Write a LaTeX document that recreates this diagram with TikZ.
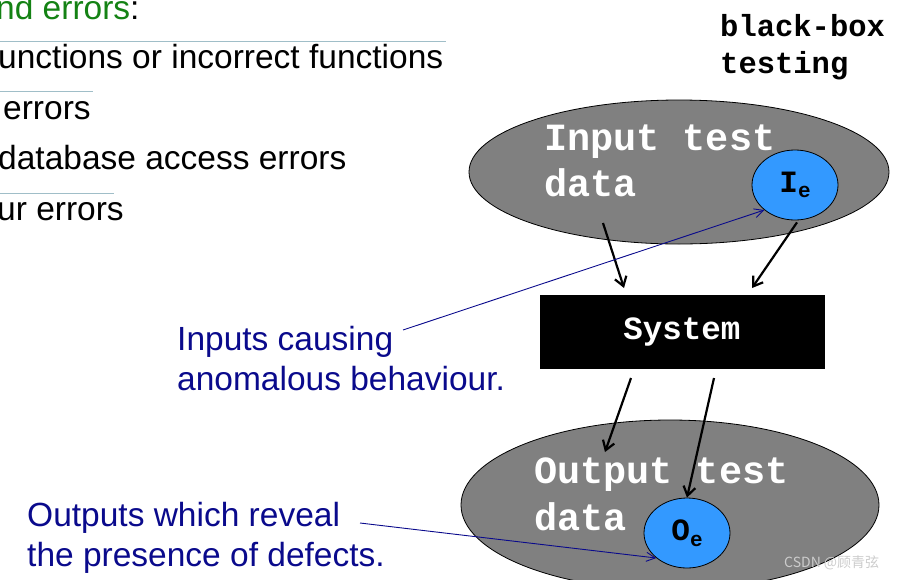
\documentclass[tikz,border=0pt]{standalone}
\usepackage{fontspec}
\setmainfont{Liberation Sans}
\newfontfamily\monof{Liberation Mono}
\newfontfamily\cjkf{Noto Sans CJK SC}
\usetikzlibrary{arrows.meta,shapes.geometric}
\definecolor{navyc}{RGB}{10,10,140}
\definecolor{greenc}{RGB}{20,130,20}
\definecolor{blobg}{RGB}{128,128,128}
\definecolor{dotb}{RGB}{51,153,255}
\definecolor{rulec}{RGB}{160,190,200}
\begin{document}
\begin{tikzpicture}[x=1pt,y=-1pt,
  blob/.style={ellipse,draw=black,fill=blobg,line width=0.8pt,inner sep=0pt},
  dot/.style={ellipse,draw=black,fill=dotb,line width=0.8pt,inner sep=0pt,font=\monof\bfseries\fontsize{31}{31}\selectfont},
  mono/.style={font=\monof\bfseries\fontsize{38.5}{40}\selectfont,text=white,anchor=base west,inner sep=0pt},
  body/.style={font=\fontsize{33.5}{36}\selectfont,anchor=base west,inner sep=0pt},
  note/.style={body,text=navyc},
  flow/.style={-{Straight Barb[length=9pt,width=12pt]},line width=2.2pt},
  pointer/.style={-{Straight Barb[length=9pt,width=9pt]},navyc,line width=0.9pt}]
\useasboundingbox (0,0) rectangle (900,579);
\clip (0,0) rectangle (900,579);
% left list
\node[body,text=greenc] (l0) at (-4,19) {nd errors\textcolor{black}{:}};
\draw[rulec,line width=0.8pt] (0,41) -- (446,41);
\node[body] (l1) at (-2,68) {unctions or incorrect functions};
\draw[rulec,line width=0.8pt] (0,91) -- (93,91);
\node[body] (l2) at (3,119) {errors};
\node[body] (l3) at (-2,169) {database access errors};
\draw[rulec,line width=0.8pt] (0,193) -- (114,193);
\node[body] (l4) at (-3,220) {ur errors};
% black box title
\node[font=\monof\bfseries\fontsize{30.5}{37}\selectfont,align=left,anchor=north west,inner sep=0pt] (bb) at (720,14) {black-box\\testing};
% shapes
\node[blob,minimum width=420,minimum height=144] (in) at (679,172) {};
\node[mono] (int) at (544,150) {Input test};
\node[mono] (ind) at (544,196) {data};
\node[dot,minimum width=86,minimum height=70] (ie) at (795,185) {I\raisebox{-0.35ex}{\fontsize{21}{21}\selectfont e}};
\node[draw=black,fill=black,minimum width=284,minimum height=73,inner sep=0pt,text=white,font=\monof\bfseries\fontsize{32.5}{32}\selectfont] (sys) at (682,332) {System};
\node[blob,minimum width=418,minimum height=170] (out) at (670,505) {};
\node[mono] (outt) at (534,483) {Output test};
\node[mono] (outd) at (534,530) {data};
\node[dot,minimum width=86,minimum height=70] (oe) at (687,533) {O\raisebox{-0.35ex}{\fontsize{21}{21}\selectfont e}};
% flow arrows
\coordinate (a1s) at (603,223); \coordinate (a1e) at (624,288);
\coordinate (a2e) at (752,288);
\coordinate (b1s) at (631,378); \coordinate (b1e) at (605,452);
\coordinate (b2s) at (714,378);
\draw[flow] (a1s) -- (a1e);
\draw[flow] (ie.south) ++(2,2) -- (a2e);
\draw[flow] (b1s) -- (b1e);
\draw[flow] (b2s) -- (oe.north);
% notes
\node[note] (n1) at (177,350) {Inputs causing};
\node[note] (n2) at (177,390) {anomalous behaviour.};
\node[note] (n3) at (27,526) {Outputs which reveal};
\node[note] (n4) at (27,566) {the presence of defects.};
\coordinate (p1s) at (403,330);
\coordinate (p2s) at (360,523);
\draw[pointer] (p1s) -- (ie.south west);
\draw[pointer] (p2s) -- (oe.south west);
% watermark
\node[text=white!60!gray,font=\cjkf\fontsize{14}{14}\selectfont,anchor=base west,inner sep=0pt] (wm) at (784,567) {CSDN @顾青弦};
\end{tikzpicture}
\end{document}
